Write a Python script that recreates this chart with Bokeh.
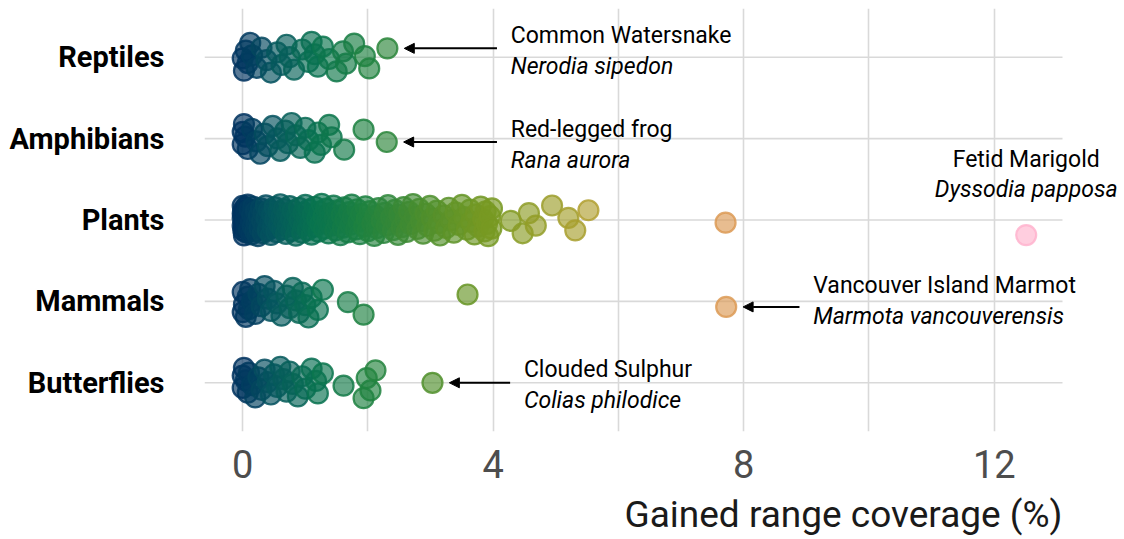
import numpy as np
from bokeh.plotting import figure
from bokeh.models import (ColumnDataSource, FixedTicker, LinearColorMapper,
                          Arrow, NormalHead, Label, Title)
from bokeh.transform import transform
from bokeh.embed import file_html
from bokeh.resources import INLINE

# ---------------- data ----------------
categories = ["Butterflies", "Mammals", "Plants", "Amphibians", "Reptiles"]  # bottom -> top

reptiles = [0.00, 0.02, 0.05, 0.08, 0.12, 0.15, 0.22, 0.30, 0.38, 0.45, 0.55, 0.62,
            0.70, 0.75, 0.82, 0.95, 1.05, 1.10, 1.15, 1.20, 1.28, 1.38, 1.50, 1.60,
            1.65, 1.78, 1.95, 2.02, 2.31]

amphibians = [0.00, 0.00, 0.02, 0.04, 0.08, 0.15, 0.22, 0.28, 0.35, 0.40, 0.48, 0.55,
              0.60, 0.68, 0.72, 0.78, 0.85, 0.92, 1.00, 1.05, 1.15, 1.20, 1.25, 1.38,
              1.42, 1.62, 1.93, 2.30]

plants = [0.00, 0.00, 0.00, 0.00, 0.01, 0.01, 0.02, 0.03, 0.04, 0.05, 0.06, 0.08,
          0.09, 0.11, 0.13, 0.15, 0.17, 0.19, 0.21, 0.24, 0.26, 0.29, 0.31, 0.34,
          0.37, 0.40, 0.42, 0.45, 0.48, 0.51, 0.54, 0.57, 0.60, 0.63, 0.66, 0.69,
          0.72, 0.75, 0.78, 0.82, 0.85, 0.88, 0.91, 0.95, 0.98, 1.02, 1.05, 1.08,
          1.12, 1.15, 1.19, 1.22, 1.26, 1.30, 1.33, 1.37, 1.41, 1.45, 1.48, 1.52,
          1.56, 1.60, 1.64, 1.68, 1.72, 1.76, 1.81, 1.85, 1.89, 1.94, 1.98, 2.03,
          2.07, 2.12, 2.17, 2.22, 2.27, 2.32, 2.37, 2.43, 2.48, 2.54, 2.60, 2.66,
          2.72, 2.79, 2.85, 2.92, 2.99, 3.06, 3.13, 3.21, 3.29, 3.37, 3.45, 3.54,
          3.63, 3.72, 3.80, 3.86, 3.92, 3.98, 4.28, 4.47, 4.57, 4.68, 4.94, 5.20,
          5.31, 5.52, 7.71, 12.51,
          0.03, 0.07, 0.14, 0.22, 0.33, 0.44, 0.52, 0.67, 0.77, 0.90, 1.00, 1.10,
          1.24, 1.35, 1.47, 1.58, 1.70, 1.83, 1.96, 2.10, 2.25, 2.40, 2.57, 2.75,
          2.95, 3.15, 3.40, 3.65, 3.84, 3.95,
          0.02, 0.06, 0.10, 0.16, 0.20, 0.27, 0.32, 0.38, 0.47, 0.58, 0.62, 0.71,
          0.80, 0.87, 0.97, 1.04, 1.13, 1.21, 1.29, 1.39, 1.50, 1.62, 1.74, 1.87,
          2.00, 2.14, 2.30, 2.45, 2.50, 2.62, 2.68, 2.82, 2.88, 3.02, 3.10, 3.25,
          3.33, 3.50, 3.58, 3.70, 3.76, 3.88, 3.90, 3.97]

mammals = [0.00, 0.00, 0.02, 0.05, 0.08, 0.10, 0.12, 0.15, 0.20, 0.25, 0.30, 0.35,
           0.40, 0.45, 0.50, 0.55, 0.62, 0.70, 0.75, 0.80, 0.85, 0.90, 0.95, 1.00,
           1.05, 1.10, 1.20, 1.28, 1.68, 1.93, 3.59, 7.72]

butterflies = [0.00, 0.00, 0.02, 0.05, 0.08, 0.10, 0.15, 0.20, 0.25, 0.30, 0.35, 0.40,
               0.45, 0.50, 0.55, 0.60, 0.65, 0.70, 0.75, 0.80, 0.88, 0.95, 1.00, 1.10,
               1.17, 1.20, 1.28, 1.61, 1.93, 1.98, 2.04, 2.12, 3.03]

x_ticks = [0, 4, 8, 12]
x_grid = [0, 2, 4, 6, 8, 10, 12]
x_title = "Gained range coverage (%)"

# annotations: category, common name, latin name, gap from point to text (data units)
ann_cats = ["Reptiles", "Amphibians", "Mammals", "Butterflies"]
ann_common = ["Common Watersnake", "Red-legged frog", "Vancouver Island Marmot", "Clouded Sulphur"]
ann_latin = ["Nerodia sipedon", "Rana aurora", "Marmota vancouverensis", "Colias philodice"]
ann_gap = [1.97, 1.98, 1.39, 1.46]
ann_dy = [0, 0, 8, 0]          # pixel nudge of the text block
top_common = "Fetid Marigold"
top_latin = "Dyssodia papposa"

# ---------------- colour scale ----------------
stop_vals = [0.0, 0.5, 1.2, 2.0, 3.0, 4.0, 5.5, 7.7, 12.6]
stop_cols = ["#00335f", "#05555e", "#087350", "#1f8240", "#4f8f2c", "#7a9a22",
             "#b0a030", "#dc9a55", "#ffb3cf"]


def hex2rgb(h):
    return [int(h[i:i + 2], 16) for i in (1, 3, 5)]


rgb = np.array([hex2rgb(c) for c in stop_cols], dtype=float)
grid_v = np.linspace(stop_vals[0], stop_vals[-1], 256)
palette = []
for v in grid_v:
    r = np.interp(v, stop_vals, rgb[:, 0])
    g = np.interp(v, stop_vals, rgb[:, 1])
    b = np.interp(v, stop_vals, rgb[:, 2])
    palette.append("#%02x%02x%02x" % (int(round(r)), int(round(g)), int(round(b))))
mapper = LinearColorMapper(palette=palette, low=stop_vals[0], high=stop_vals[-1])

# ---------------- build source with deterministic (quasi-random) jitter ----------------
series = {"Reptiles": reptiles, "Amphibians": amphibians, "Plants": plants,
          "Mammals": mammals, "Butterflies": butterflies}
jitter_phase = {"Reptiles": 0.47, "Amphibians": 0.71, "Plants": 0.70,
                "Mammals": 0.17, "Butterflies": 0.72}
JW = 0.40
xs, ys = [], []
point_y = {}
for cat in categories:
    idx = categories.index(cat)
    vals = sorted(series[cat])
    for i, v in enumerate(vals):
        off = (((i * 0.6180339887 + jitter_phase[cat]) % 1.0) - 0.5) * JW
        xs.append(v)
        ys.append(idx + off)
    point_y[cat] = ys[-1]   # y of the largest value in this category

order = np.argsort(xs, kind="stable")
src = ColumnDataSource(dict(x=[xs[i] for i in order], y=[ys[i] for i in order]))

# ---------------- figure ----------------
FONT = "Roboto"
X_START, X_PANEL_END, X_END = -0.61, 13.09, 14.08
p = figure(frame_width=920, frame_height=423,
           x_range=(X_START, X_END), y_range=(-0.6, 4.6),
           output_backend="svg", toolbar_location=None,
           min_border_left=204, min_border_right=0, min_border_top=8,
           min_border_bottom=0)
p.outline_line_color = None
p.background_fill_color = "white"
p.border_fill_color = "white"

p.xaxis.ticker = FixedTicker(ticks=x_ticks)
p.xgrid.ticker = FixedTicker(ticks=x_grid)
p.yaxis.ticker = FixedTicker(ticks=list(range(len(categories))))
p.ygrid.visible = False
p.yaxis.major_label_overrides = {i: c for i, c in enumerate(categories)}

for ax in (p.xaxis, p.yaxis):
    ax.axis_line_color = None
    ax.major_tick_line_color = None
    ax.minor_tick_line_color = None
    ax.major_label_text_font = FONT

p.xaxis.major_label_text_font_size = "38px"
p.xaxis.major_label_text_color = "#4d4d4d"
p.xaxis.major_label_standoff = 12
p.yaxis.major_label_text_font_size = "29px"
p.yaxis.major_label_text_font_style = "bold"
p.yaxis.major_label_text_color = "black"
p.yaxis.major_label_standoff = 34

p.xgrid.grid_line_color = "#d9d9d9"
p.xgrid.grid_line_width = 1.6

# horizontal grid lines, limited to the panel width
cat_idx = list(range(len(categories)))
p.segment(x0=[X_START] * len(cat_idx), x1=[X_PANEL_END] * len(cat_idx),
          y0=cat_idx, y1=cat_idx, line_color="#d9d9d9", line_width=1.6)

p.scatter("x", "y", source=src, size=20, line_width=2.2,
          fill_color=transform("x", mapper), line_color=transform("x", mapper),
          fill_alpha=0.65, line_alpha=0.85)

# annotations with arrows
for cat, common, latin, gap, dy in zip(ann_cats, ann_common, ann_latin, ann_gap, ann_dy):
    pt = max(series[cat])
    yp = point_y[cat]
    lx = pt + gap
    p.add_layout(Arrow(end=NormalHead(size=10, fill_color="black", line_color="black"),
                       x_start=lx - 0.22, y_start=yp, x_end=pt + 0.27, y_end=yp,
                       line_width=2, line_color="black"))
    p.add_layout(Label(x=lx, y=yp, text=common, text_font=FONT, text_font_size="23px",
                       text_baseline="alphabetic", y_offset=13 + dy, text_color="black"))
    p.add_layout(Label(x=lx, y=yp, text=latin, text_font=FONT, text_font_size="23px",
                       text_font_style="italic", text_baseline="alphabetic",
                       y_offset=-18 + dy, text_color="black"))

pl_idx = categories.index("Plants")
pl_max = max(plants)
p.add_layout(Label(x=pl_max, y=pl_idx, text=top_common, text_font=FONT,
                   text_font_size="23px", text_align="center",
                   text_baseline="alphabetic", y_offset=61, text_color="black"))
p.add_layout(Label(x=pl_max, y=pl_idx, text=top_latin, text_font=FONT,
                   text_font_size="23px", text_font_style="italic", text_align="center",
                   text_baseline="alphabetic", y_offset=31, text_color="black"))

p.add_layout(Title(text=x_title, align="right", text_font=FONT, text_font_size="37px",
                   text_font_style="normal", text_color="#1a1a1a", standoff=20,
                   offset=62), "below")

open("out.html", "w").write(file_html(p, INLINE))
